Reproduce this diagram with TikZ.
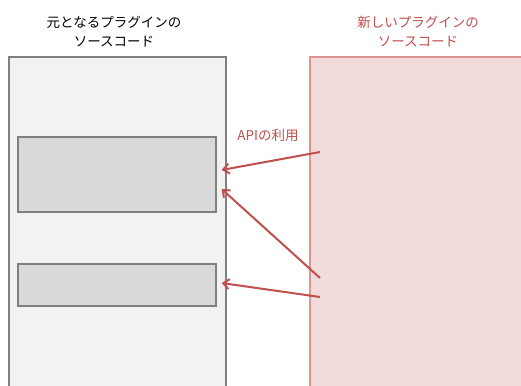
\documentclass[tikz,border=0pt]{standalone}
\usepackage{fontspec}
\setmainfont{Noto Sans CJK JP}
\usetikzlibrary{arrows.meta}
\definecolor{redc}{HTML}{C0504D}
\definecolor{pinkfill}{HTML}{F2DCDB}
\definecolor{pinkline}{HTML}{DA9694}
\definecolor{outerfill}{HTML}{F2F2F2}
\definecolor{innerfill}{HTML}{D9D9D9}
\definecolor{grayline}{HTML}{808080}
\tikzset{
  outerbox/.style={draw=grayline, fill=outerfill, line width=1.3pt},
  innerbox/.style={draw=grayline, fill=innerfill, line width=1.3pt},
  newbox/.style={draw=pinkline, fill=pinkfill, line width=1.3pt},
  title/.style={align=center, font=\fontsize{13.5}{19}\selectfont, inner sep=0pt},
  usearrow/.style={draw=redc, line width=2pt, -{Straight Barb[length=6pt,width=10pt,line width=2pt]}},
}
\begin{document}
\begin{tikzpicture}[x=1pt,y=-1pt]
\useasboundingbox (0,0) rectangle (521,385);
\clip (0,0) rectangle (521,385);
\fill[white] (0,0) rectangle (521,385);
\draw[outerbox] (9,57) rectangle (226,400);
\draw[newbox] (310,57) rectangle (530,400);
\node[innerbox, minimum width=198pt, minimum height=75pt, inner sep=0pt] (in1) at (117,174.5) {};
\node[innerbox, minimum width=198pt, minimum height=42pt, inner sep=0pt] (in2) at (117,285) {};
\node[title] (t1) at (114,31.5) {元となるプラグインの\\ソースコード};
\node[title, text=redc] (t2) at (418,31.5) {新しいプラグインの\\ソースコード};
\node[font=\fontsize{13.5}{15}\selectfont, text=redc, inner sep=0pt] (api) at (268,135) {APIの利用};
\coordinate (s1) at (320,152);
\coordinate (s2) at (320,278);
\coordinate (s3) at (320,297);
\coordinate (e1) at ([xshift=5pt]in1.east |- 0,170);
\coordinate (e2) at ([xshift=5pt]in1.east |- 0,189);
\coordinate (e3) at ([xshift=5pt]in2.east |- 0,283);
\draw[usearrow] (s1) -- (e1);
\draw[usearrow] (s2) -- (e2);
\draw[usearrow] (s3) -- (e3);
\end{tikzpicture}
\end{document}
